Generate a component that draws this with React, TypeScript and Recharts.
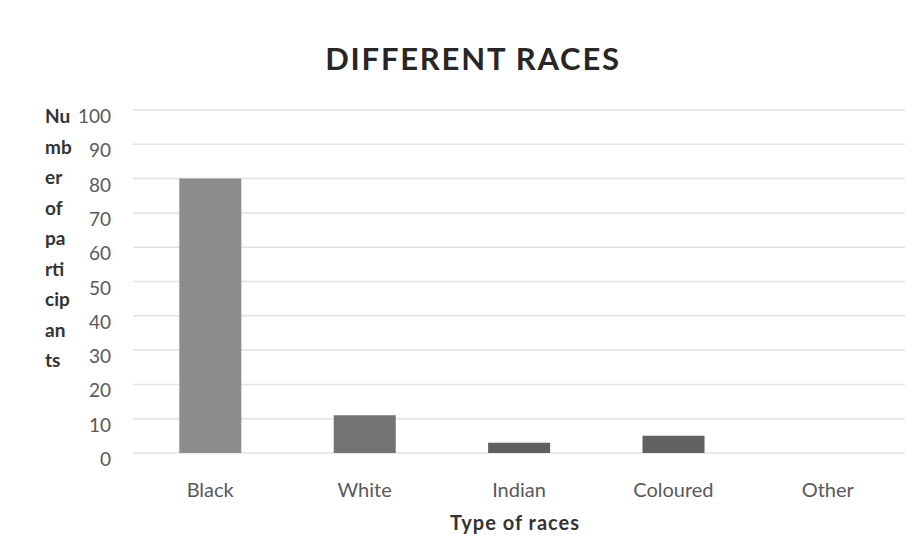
import React from "react";
import { BarChart, Bar, XAxis, YAxis, CartesianGrid, Cell } from "recharts";

const categories = ["Black", "White", "Indian", "Coloured", "Other"];
const participants = [80, 11, 3, 5, 0];
const yTicks = [0, 10, 20, 30, 40, 50, 60, 70, 80, 90, 100];
const barColors = ["#8d8d8d", "#737373", "#606060", "#616161", "#606060"];
const chartTitle = "DIFFERENT RACES";
const xTitle = "Type of races";
const yTitleLines = ["Nu", "mb", "er", "of", "pa", "rti", "cip", "an", "ts"];

const data = categories.map((c, i) => ({ race: c, value: participants[i] }));

const FONT = "Lato, 'Open Sans', sans-serif";

const YTick = (props: any) => {
  const { x, y, payload } = props;
  return (
    <text x={x} y={y + 13} textAnchor="end" fontFamily={FONT} fontSize={19} fill="#595959">
      {payload.value}
    </text>
  );
};

const XTick = (props: any) => {
  const { x, y, payload } = props;
  return (
    <text x={x} y={y + 44} textAnchor="middle" fontFamily={FONT} fontSize={20} fill="#595959">
      {payload.value}
    </text>
  );
};

export default function App() {
  return (
    <div style={{ margin: -8, width: 923, height: 559, background: "#ffffff", position: "relative" }}>
      <BarChart
        width={923}
        height={559}
        data={data}
        margin={{ top: 110, right: 18, bottom: 76, left: 73 }}
        barCategoryGap="30%"
      >
        <text x={473} y={70} textAnchor="middle" fontFamily={FONT} fontWeight={700} fontSize={31} letterSpacing={1.8} fill="#262626">
          {chartTitle}
        </text>
        <text x={515} y={530} textAnchor="middle" fontFamily={FONT} fontWeight={700} fontSize={20} letterSpacing={1} fill="#333333">
          {xTitle}
        </text>
        <text fontFamily={FONT} fontWeight={700} fontSize={19} fill="#333333">
          {yTitleLines.map((l, i) => (
            <tspan key={i} x={45} y={123 + i * 30.5}>
              {l}
            </tspan>
          ))}
        </text>
        <CartesianGrid vertical={false} stroke="#e2e2e2" strokeWidth={1.5} />
        <XAxis
          dataKey="race"
          height={30}
          axisLine={false}
          tickLine={false}
          tickSize={0}
          tickMargin={0}
          tick={<XTick />}
          interval={0}
        />
        <YAxis
          width={60}
          domain={[0, 100]}
          ticks={yTicks}
          axisLine={false}
          tickLine={false}
          tickSize={0}
          tickMargin={22}
          tick={<YTick />}
          interval={0}
        />
        <Bar dataKey="value" isAnimationActive={false}>
          {data.map((d, i) => (
            <Cell key={d.race} fill={barColors[i]} />
          ))}
        </Bar>
      </BarChart>
    </div>
  );
}
